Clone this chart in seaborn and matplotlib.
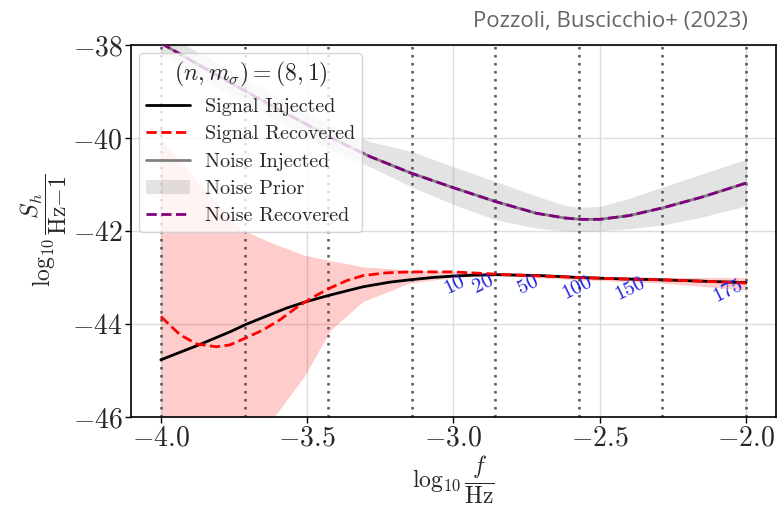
import numpy as np
import pandas as pd
import matplotlib
matplotlib.use("Agg")
import matplotlib.pyplot as plt
import seaborn as sns
from matplotlib.patches import Patch
from matplotlib.lines import Line2D

# ---- data ----
sig_inj_x = [-4.0, -3.878, -3.764, -3.713, -3.651, -3.571, -3.503, -3.423, -3.309, -3.217, -3.149, -3.07, -3.0, -2.93, -2.85, -2.7, -2.57, -2.43, -2.29, -2.15, -2.0]
sig_inj_y = [-44.77, -44.47, -44.17, -44.02, -43.86, -43.66, -43.52, -43.38, -43.2, -43.1, -43.05, -43.0, -42.97, -42.95, -42.94, -42.96, -43.0, -43.03, -43.05, -43.08, -43.11]

sig_rec_x = [-4.0, -3.935, -3.878, -3.81, -3.764, -3.713, -3.651, -3.593, -3.537, -3.479, -3.423, -3.366, -3.309, -3.229, -3.149, -3.0, -2.85, -2.7, -2.57, -2.43, -2.29, -2.15, -2.0]
sig_rec_y = [-43.84, -44.23, -44.43, -44.49, -44.45, -44.31, -44.13, -43.91, -43.65, -43.42, -43.23, -43.07, -42.96, -42.9, -42.88, -42.88, -42.93, -42.97, -43.0, -43.03, -43.05, -43.08, -43.12]

sig_band_x = [-4.0, -3.9, -3.8, -3.72, -3.62, -3.51, -3.42, -3.31, -3.15, -3.0, -2.85, -2.57, -2.29, -2.0]
sig_band_hi = [-40.0, -40.75, -41.45, -41.98, -42.26, -42.52, -42.64, -42.77, -42.84, -42.88, -42.9, -42.97, -43.0, -43.0]
sig_band_lo = [-49.5, -48.6, -47.7, -47.0, -46.06, -45.13, -44.13, -43.52, -43.12, -43.0, -42.96, -43.05, -43.12, -43.27]

noise_x = [-4.0, -3.8, -3.6, -3.4, -3.285, -3.143, -3.0, -2.855, -2.716, -2.62, -2.567, -2.5, -2.4, -2.283, -2.15, -2.0]
noise_y = [-37.96, -38.68, -39.38, -40.05, -40.4, -40.76, -41.07, -41.37, -41.62, -41.72, -41.75, -41.75, -41.67, -41.5, -41.27, -40.97]
noise_hi = [-37.7, -38.42, -39.12, -39.77, -40.08, -40.29, -40.62, -40.94, -41.25, -41.45, -41.49, -41.47, -41.3, -41.05, -40.77, -40.46]
noise_lo = [-38.22, -38.94, -39.64, -40.33, -40.62, -41.05, -41.43, -41.76, -41.94, -42.0, -42.01, -42.0, -41.95, -41.87, -41.7, -41.46]

vline_x = [-4.0, -3.714, -3.429, -3.143, -2.857, -2.571, -2.286, -2.0]

lab_text = ["10", "20", "50", "100", "150", "175"]
lab_x = [-2.995, -2.899, -2.745, -2.578, -2.397, -2.062]
lab_y = [-43.17, -43.13, -43.17, -43.21, -43.24, -43.28]

# ---- style ----
sns.set_theme(style="whitegrid")
plt.rcParams.update({
    "font.family": "serif",
    "font.serif": ["cmr10", "DejaVu Serif"],
    "mathtext.fontset": "cm",
    "axes.formatter.use_mathtext": True,
    "axes.unicode_minus": True,
})

fig = plt.figure(figsize=(7.77, 5.11), dpi=100)
ax = fig.add_axes([0.1686, 0.184, 0.8300, 0.728])

ax.fill_between(sig_band_x, sig_band_lo, sig_band_hi, color="red", alpha=0.2, lw=0, zorder=1)
ax.fill_between(noise_x, noise_lo, noise_hi, color="gray", alpha=0.22, lw=0, zorder=1)

for xv in vline_x:
    ax.axvline(xv, color="#555555", ls=(0, (1, 2.2)), lw=1.8, zorder=2)

df_si = pd.DataFrame({"x": sig_inj_x, "y": sig_inj_y})
df_sr = pd.DataFrame({"x": sig_rec_x, "y": sig_rec_y})
df_n = pd.DataFrame({"x": noise_x, "y": noise_y})

sns.lineplot(data=df_si, x="x", y="y", ax=ax, color="black", lw=2, zorder=4, sort=False)
sns.lineplot(data=df_sr, x="x", y="y", ax=ax, color="red", lw=2, ls="--", zorder=5, sort=False)
sns.lineplot(data=df_n, x="x", y="y", ax=ax, color="gray", lw=2, zorder=4, sort=False)
sns.lineplot(data=df_n, x="x", y="y", ax=ax, color="purple", lw=2, ls="--", zorder=5, sort=False)

for t, xv, yv in zip(lab_text, lab_x, lab_y):
    ax.text(xv, yv, t, color="#2222dd", fontsize=15, rotation=26,
            ha="center", va="center", zorder=6)

ax.set_xlim(-4.102, -1.898)
ax.set_ylim(-46, -38)
ax.set_xticks([-4.0, -3.5, -3.0, -2.5, -2.0])
ax.set_yticks([-46, -44, -42, -40, -38])
ax.xaxis.set_major_formatter(matplotlib.ticker.FormatStrFormatter("$%.1f$"))
ax.yaxis.set_major_formatter(matplotlib.ticker.FormatStrFormatter("$%d$"))
ax.tick_params(axis="both", labelsize=20, length=4, width=1, color="black",
               direction="out", bottom=True, left=True, pad=2)
ax.grid(True, color="#dddddd", lw=1)
for s in ax.spines.values():
    s.set_color("black")
    s.set_linewidth(1.2)

ax.set_xlabel(r"$\log_{10}\dfrac{f}{\mathrm{Hz}}$", fontsize=17, labelpad=2)
ax.set_ylabel(r"$\log_{10}\dfrac{S_h}{\mathrm{Hz}{-}1}$", fontsize=17, labelpad=2)

handles = [
    Line2D([], [], color="black", lw=2),
    Line2D([], [], color="red", lw=2, ls="--"),
    Line2D([], [], color="gray", lw=2),
    Patch(facecolor="gray", alpha=0.22, edgecolor="none"),
    Line2D([], [], color="purple", lw=2, ls="--"),
]
labels = ["Signal Injected", "Signal Recovered", "Noise Injected", "Noise Prior", "Noise Recovered"]
leg = ax.legend(handles, labels, title=r"$(n, m_\sigma) = (8, 1)$", loc="upper left",
                fontsize=14.5, title_fontsize=17, frameon=True, framealpha=0.8,
                borderaxespad=0.4, handlelength=2.2, labelspacing=0.45,
                borderpad=0.35, handletextpad=0.7)
leg.get_frame().set_edgecolor("#cccccc")

fig.text(0.963, 0.958, "Pozzoli, Buscicchio+ (2023)", ha="right", va="center",
         fontsize=16, color="#666666", family="Open Sans")

fig.savefig("out.png", dpi=100)
